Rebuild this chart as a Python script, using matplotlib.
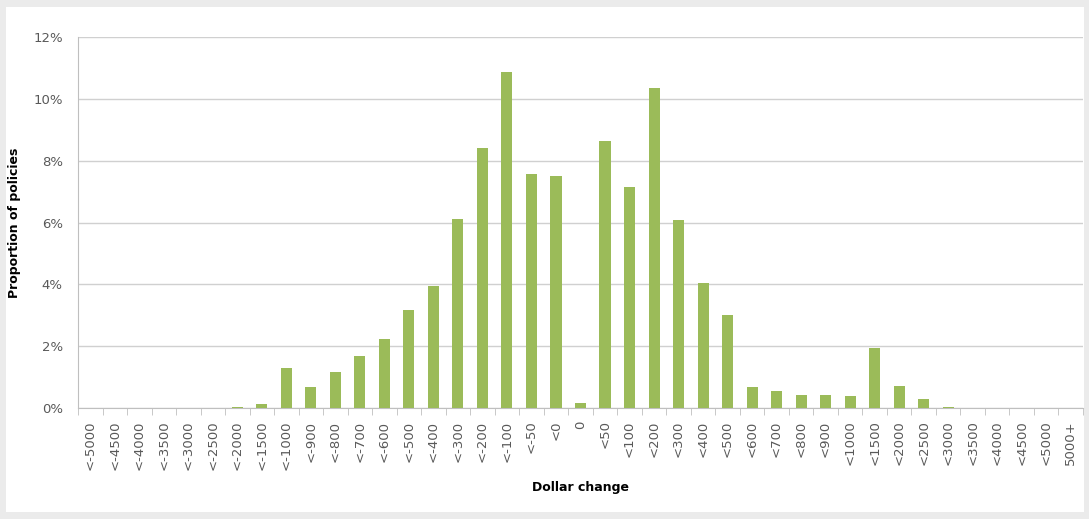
import matplotlib.pyplot as plt
from matplotlib.patches import Rectangle
from matplotlib.ticker import FixedLocator, PercentFormatter

categories = ["<-5000", "<-4500", "<-4000", "<-3500", "<-3000", "<-2500",
              "<-2000", "<-1500", "<-1000", "<-900", "<-800", "<-700",
              "<-600", "<-500", "<-400", "<-300", "<-200", "<-100", "<-50",
              "<0", "0", "<50", "<100", "<200", "<300", "<400", "<500",
              "<600", "<700", "<800", "<900", "<1000", "<1500", "<2000",
              "<2500", "<3000", "<3500", "<4000", "<4500", "<5000", "5000+"]

share = [0, 0, 0, 0, 0, 0,
         0.02, 0.13, 1.29, 0.68, 1.17, 1.68,
         2.23, 3.17, 3.95, 6.1, 8.42, 10.87, 7.57,
         7.5, 0.16, 8.64, 7.15, 10.36, 6.08, 4.04, 3.01,
         0.68, 0.55, 0.42, 0.42, 0.39, 1.94, 0.7,
         0.29, 0.03, 0, 0, 0, 0, 0]

grey = "#595959"

fig = plt.figure(figsize=(10.89, 5.19), dpi=100, facecolor="#ebebeb")
fig.patches.append(Rectangle((6 / 1089, 7 / 519), 1078 / 1089, 505 / 519,
                             transform=fig.transFigure, facecolor="white",
                             edgecolor="none", zorder=-10))

ax = fig.add_axes([78 / 1089, 1 - 408 / 519, 1005 / 1089, 371 / 519])
ax.set_facecolor("white")

x = range(len(categories))
ax.bar(x, share, width=0.45, color="#9bbb59", zorder=3)

ax.set_xlim(-0.5, len(categories) - 0.5)
ax.set_ylim(0, 12)
ax.set_yticks([0, 2, 4, 6, 8, 10, 12])
ax.yaxis.set_major_formatter(PercentFormatter(decimals=0))
ax.grid(axis="y", color="#d0d0d0", linewidth=1, zorder=0)

ax.set_xticks(list(x))
ax.set_xticklabels(categories, rotation=90, fontsize=9.5, color=grey)
ax.xaxis.set_minor_locator(FixedLocator([i - 0.5 for i in range(len(categories) + 1)]))
ax.tick_params(axis="x", which="major", length=0, pad=9)
ax.tick_params(axis="x", which="minor", length=5, color="#bfbfbf", direction="out")
ax.tick_params(axis="y", length=0, labelsize=9.5, labelcolor=grey, pad=11)

for side in ["top", "right"]:
    ax.spines[side].set_visible(False)
ax.spines["left"].set_color("#bfbfbf")
ax.spines["bottom"].set_color("#bfbfbf")

ax.set_ylabel("Proportion of policies", fontsize=9, fontweight="bold", labelpad=9)
ax.set_xlabel("Dollar change", fontsize=9, fontweight="bold", labelpad=8)

fig.savefig("out.png", dpi=100, facecolor=fig.get_facecolor())
